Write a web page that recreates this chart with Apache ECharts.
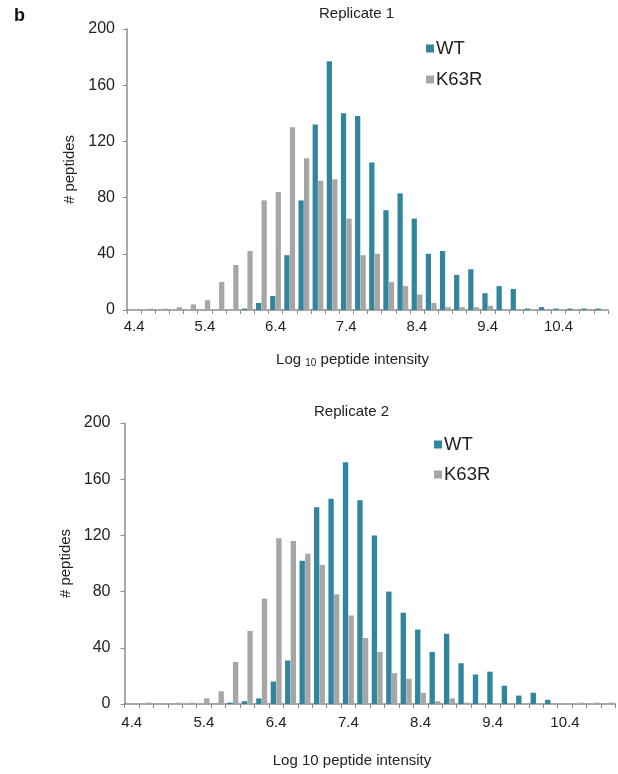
<!DOCTYPE html>
<html>
<head>
<meta charset="utf-8">
<script src="https://cdn.jsdelivr.net/npm/echarts@6/dist/echarts.min.js"></script>
<style>
  html, body { margin: 0; padding: 0; background: #fff; }
  #chart { width: 618px; height: 774px; }
</style>
</head>
<body>
<div id="chart"></div>
<script>
// log10 intensity bins (0.2 wide)
const bins = ['4.4', '4.6', '4.8', '5.0', '5.2', '5.4', '5.6', '5.8', '6.0', '6.2',
  '6.4', '6.6', '6.8', '7.0', '7.2', '7.4', '7.6', '7.8', '8.0', '8.2',
  '8.4', '8.6', '8.8', '9.0', '9.2', '9.4', '9.6', '9.8', '10.0', '10.2',
  '10.4', '10.6', '10.8', '11.0'];

// Replicate 1
const wt1 = [0, 0, 0, 0, 0, 0, 0, 0, 1, 5, 10, 39, 78, 132, 177, 140, 138, 105, 71, 83,
  65, 40, 42, 25, 29, 12, 17, 15, 1, 2, 1, 1, 1, 1];
const k63r1 = [0, 1, 1, 2, 4, 7, 20, 32, 42, 78, 84, 130, 108, 92, 93, 65, 39, 40, 20, 17,
  11, 5, 2, 2, 2, 3, 0, 0, 0, 0, 0, 0, 0, 0];

// Replicate 2
const wt2 = [0, 0, 0, 0, 0, 0, 0, 1, 2, 4, 16, 31, 102, 140, 146, 172, 145, 120, 80, 65,
  53, 37, 50, 29, 21, 23, 13, 6, 8, 3, 0, 0, 0, 0];
const k63r2 = [0, 1, 0, 1, 1, 4, 9, 30, 52, 75, 118, 116, 107, 99, 78, 63, 47, 37, 22, 18,
  8, 2, 4, 1, 0, 0, 0, 0, 0, 0, 0, 1, 1, 1];

const yTicks = { min: 0, max: 200, interval: 40 };

const WT_COLOR = '#31859C';
const K_COLOR = '#A6A6A6';
const AXIS_COLOR = '#8c8c8c';
const TEXT_COLOR = '#222';

const chart = echarts.init(document.getElementById('chart'));

function xAxisFor(gridIndex, nameGap, shift, labelMargin) {
  return {
    type: 'category',
    gridIndex: gridIndex,
    data: bins,
    name: gridIndex === 0 ? 'Log {sub|10} peptide intensity' : 'Log 10 peptide intensity',
    nameLocation: 'middle',
    nameGap: nameGap,
    nameTextStyle: {
      color: TEXT_COLOR,
      fontSize: 15,
      fontFamily: 'Liberation Sans',
      padding: [0, shift, 0, 0],
      rich: { sub: { fontSize: 10, verticalAlign: 'bottom', padding: [7, 0, 0, 0], color: TEXT_COLOR } }
    },
    axisLine: { lineStyle: { color: AXIS_COLOR, width: 1.5 } },
    axisTick: { show: true, interval: 0, length: 4, lineStyle: { color: AXIS_COLOR } },
    axisLabel: { interval: 4, color: TEXT_COLOR, fontSize: 15, fontFamily: 'Liberation Sans', margin: labelMargin },
    splitLine: { show: false }
  };
}

function yAxisFor(gridIndex, nameGap, margin) {
  return {
    type: 'value',
    gridIndex: gridIndex,
    min: yTicks.min,
    max: yTicks.max,
    interval: yTicks.interval,
    name: '# peptides',
    nameLocation: 'middle',
    nameGap: nameGap,
    nameTextStyle: { color: TEXT_COLOR, fontSize: 15, fontFamily: 'Liberation Sans' },
    axisLine: { show: true, lineStyle: { color: AXIS_COLOR, width: 1.5 } },
    axisTick: { show: true, length: 4, lineStyle: { color: AXIS_COLOR } },
    axisLabel: { color: TEXT_COLOR, fontSize: 16, fontFamily: 'Liberation Sans', margin: margin },
    splitLine: { show: false }
  };
}

function barSeries(name, data, color, idx) {
  return {
    name: name,
    type: 'bar',
    xAxisIndex: idx,
    yAxisIndex: idx,
    data: data,
    barGap: '5%',
    barCategoryGap: '24%',
    itemStyle: { color: color },
    emphasis: { disabled: true }
  };
}

const option = {
  animation: false,
  textStyle: { fontFamily: 'Liberation Sans' },
  title: [
    { text: 'b', left: 9, top: 2, textStyle: { fontSize: 18, fontWeight: 'bold', color: '#111' } },
    { text: 'Replicate 1', left: 314, top: 1, textStyle: { fontSize: 15, fontWeight: 'normal', color: TEXT_COLOR } },
    { text: 'Replicate 2', left: 309, top: 399, textStyle: { fontSize: 15, fontWeight: 'normal', color: TEXT_COLOR } }
  ],
  legend: [
    {
      orient: 'vertical', left: 421, top: 34, itemWidth: 8, itemHeight: 8, itemGap: 12,
      icon: 'rect', data: ['WT', 'K63R'],
      textStyle: { fontSize: 18.5, color: TEXT_COLOR, padding: [0, 0, 0, -3] },
      selectedMode: false
    },
    {
      orient: 'vertical', left: 429, top: 430, itemWidth: 8, itemHeight: 8, itemGap: 11,
      icon: 'rect', data: ['WT ', 'K63R '],
      textStyle: { fontSize: 18.5, color: TEXT_COLOR, padding: [0, 0, 0, -3] },
      selectedMode: false
    }
  ],
  grid: [
    { left: 127, top: 29, width: 481, height: 281 },
    { left: 124.5, top: 423, width: 491, height: 281 }
  ],
  xAxis: [xAxisFor(0, 41, 30, 9), xAxisFor(1, 49, 36, 11)],
  yAxis: [yAxisFor(0, 45, 12), yAxisFor(1, 51, 14)],
  series: [
    barSeries('WT', wt1, WT_COLOR, 0),
    barSeries('K63R', k63r1, K_COLOR, 0),
    barSeries('WT ', wt2, WT_COLOR, 1),
    barSeries('K63R ', k63r2, K_COLOR, 1)
  ]
};

chart.setOption(option);
</script>
</body>
</html>
